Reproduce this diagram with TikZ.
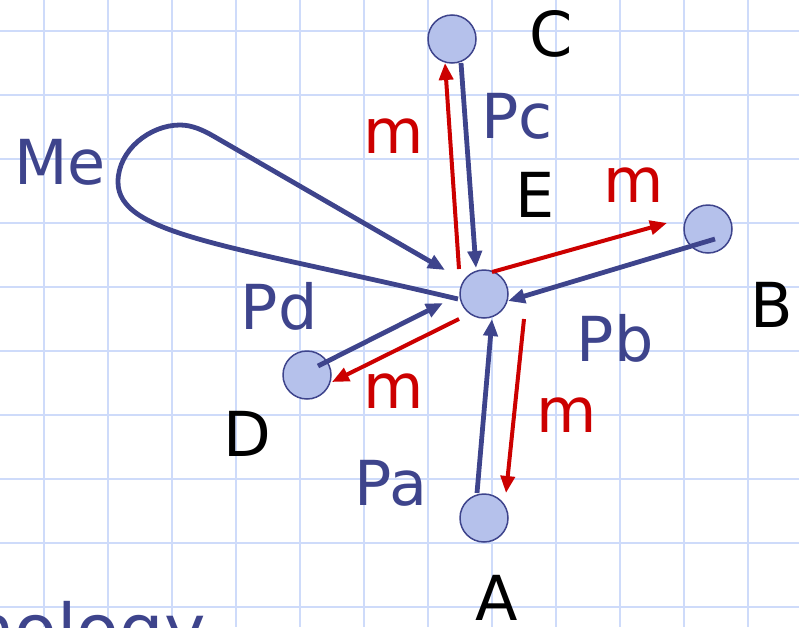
\documentclass[tikz,border=0pt]{standalone}
\usepackage{fontspec}
\setmainfont{DejaVu Sans}
\usetikzlibrary{arrows.meta}
\definecolor{gridblue}{RGB}{206,219,250}
\definecolor{agentblue}{RGB}{62,68,140}
\definecolor{agentfill}{RGB}{181,193,235}
\definecolor{msgred}{RGB}{204,0,0}

\begin{document}
\begin{tikzpicture}[x=1pt,y=-1pt, >={Triangle[length=17pt,width=14pt]},
  agent/.style={circle,draw=agentblue,fill=agentfill,line width=1.5pt,minimum size=48pt,inner sep=0pt},
  lbl/.style={font=\fontsize{62}{62}\selectfont,inner sep=0pt,anchor=base},
  pkt/.style={agentblue,line width=4.8pt,->},
  msg/.style={msgred,line width=4pt,->}]
  \useasboundingbox (0,0) rectangle (799,627);
  \clip (0,0) rectangle (799,627);

  % ===== grid paper =====
  \foreach \gx in {44,108,...,748} \draw[gridblue,line width=2pt] (\gx,0) -- (\gx,627);
  \foreach \gy in {31,95,...,607} \draw[gridblue,line width=2pt] (0,\gy) -- (799,\gy);

  % ===== agents =====
  \node[agent] (E) at (484,294) {};
  \node[agent] (C) at (452,39) {};
  \node[agent] (B) at (708,229) {};
  \node[agent] (D) at (307,375) {};
  \node[agent] (A) at (484,518) {};

  % ===== replies back to E (blue) =====
  \draw[pkt] ([shift={(9,24)}]C.center) -- ([shift={(-8,-26)}]E.center);
  \draw[pkt] ([shift={(7,10)}]B.center) -- ([shift={(24,7)}]E.center);
  \draw[pkt] ([shift={(-7,-25)}]A.center) -- ([shift={(8,25)}]E.center);
  \draw[pkt] ([shift={(11,-9)}]D.center) -- ([shift={(-41,9)}]E.center);
  % self loop Me
  \draw[pkt] ([shift={(-26,5)}]E.center) .. controls (230,245) and (118,235) .. (118,182)
    .. controls (118,150) and (150,125) .. (180,125)
    .. controls (192,125) and (203,130) .. (215,137) -- ([shift={(-39,-24)}]E.center);

  % ===== messages out of E (red) =====
  \draw[msg] ([shift={(-25,-25)}]E.center) -- ([shift={(-7,24)}]C.center);
  \draw[msg] ([shift={(8,-22)}]E.center) -- ([shift={(-41,-6)}]B.center);
  \draw[msg] ([shift={(40,25)}]E.center) -- ([shift={(22,-25)}]A.center);
  \draw[msg] ([shift={(-25,25)}]E.center) -- ([shift={(25,7)}]D.center);

  % ===== labels =====
  \node[lbl] (lC) at (551,56) {C};
  \node[lbl] (lE) at (535,217) {E};
  \node[lbl] (lB) at (772,327) {B};
  \node[lbl] (lD) at (247,456) {D};
  \node[lbl] (lA) at (497,620) {A};
  \node[lbl,agentblue] (lPc) at (517,138) {Pc};
  \node[lbl,agentblue] (lPb) at (615,361) {Pb};
  \node[lbl,agentblue] (lPd) at (279,329) {Pd};
  \node[lbl,agentblue] (lPa) at (391,505) {Pa};
  \node[lbl,agentblue] (lMe) at (60,184) {Me};
  \node[lbl,msgred] (mC) at (394,153) {m};
  \node[lbl,msgred] (mB) at (634,202) {m};
  \node[lbl,msgred] (mD) at (394,408) {m};
  \node[lbl,msgred] (mA) at (567,432) {m};

  % slide title, cut off by the frame
  \node[font=\fontsize{70}{70}\selectfont,text=agentblue,inner sep=0pt,anchor=base west] (title) at (-30,654) {nology};
\end{tikzpicture}
\end{document}
